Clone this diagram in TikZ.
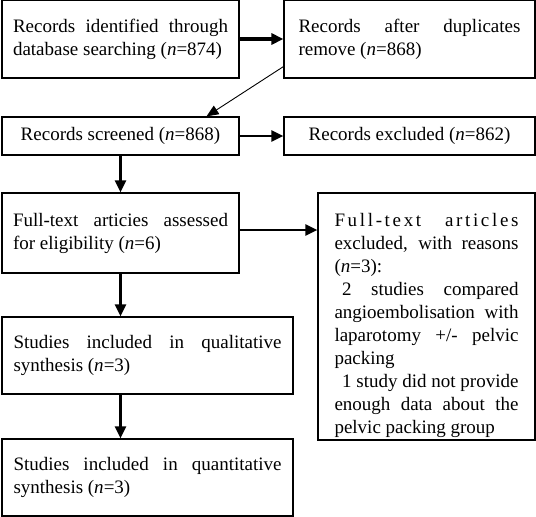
\documentclass[tikz,border=0pt]{standalone}
\usepackage{fontspec}
\setmainfont{Liberation Serif}
\usetikzlibrary{arrows.meta}
\tikzset{
	box/.style={draw,line width=1.2pt,inner sep=0pt,align=justify,
		font=\fontsize{19}{23}\selectfont},
	link/.style={line width=2.2pt,-{Triangle[length=12pt,width=11pt]}}
}
\begin{document}
\begin{tikzpicture}[x=1pt,y=1pt]
	\useasboundingbox (0,0) rectangle (536,-517);
	\node[box,minimum width=237pt,minimum height=78pt,text width=215pt] (ident) at (120.5,-39)
		{Records identified through\linebreak database searching (\textit{n}=874)};
	\node[box,minimum width=251pt,minimum height=78pt,text width=222pt] (dupl) at (409.5,-39)
		{Records after duplicates\linebreak remove (\textit{n}=868)};
	\node[box,minimum width=237pt,minimum height=38pt,align=center] (screen) at (120.5,-136)
		{Records screened (\textit{n}=868)};
	\node[box,minimum width=251pt,minimum height=38pt,align=center] (excl) at (409.5,-136)
		{Records excluded (\textit{n}=862)};
	\node[box,minimum width=237pt,minimum height=80pt,text width=215pt] (full) at (120.5,-233)
		{Full-text articies assessed\linebreak for eligibility (\textit{n}=6)};
	\node[box,minimum width=217pt,minimum height=247pt,text width=184pt] (reason) at (426.5,-316.5)
		{\rule{0pt}{32pt}{\addfontfeatures{LetterSpace=14}Full-text articles}\linebreak
		excluded, with reasons\linebreak (\textit{n}=3):\newline
		\hspace*{0.4em}2 studies compared\linebreak angioembolisation with\linebreak
		laparotomy +/- pelvic\linebreak packing\newline
		\hspace*{0.4em}1 study did not provide\linebreak enough data about the\linebreak
		pelvic packing group};
	\node[box,minimum width=291pt,minimum height=77pt,text width=268pt] (qual) at (147.5,-355.5)
		{Studies included in qualitative\linebreak synthesis (\textit{n}=3)};
	\node[box,minimum width=291pt,minimum height=77pt,text width=268pt] (quant) at (147.5,-477.5)
		{Studies included in quantitative\linebreak synthesis (\textit{n}=3)};
	% connectors
	\draw[link,line width=3.5pt] (ident) -- (dupl);
	\draw[line width=0.9pt,-{Triangle[length=12pt,width=10pt]}] ([yshift=12pt]dupl.south west) -- ([xshift=86pt]screen.north);
	\draw[link] (screen) -- (excl);
	\draw[link] (screen.south) -- (full.north);
	\draw[link] ([yshift=3pt]full.east) -- ([yshift=3pt]full.east -| reason.west);
	\draw[link] (full.south) -- (full.south |- qual.north);
	\draw[link] (qual.south -| full.south) -- (quant.north -| full.south);
\end{tikzpicture}
\end{document}
